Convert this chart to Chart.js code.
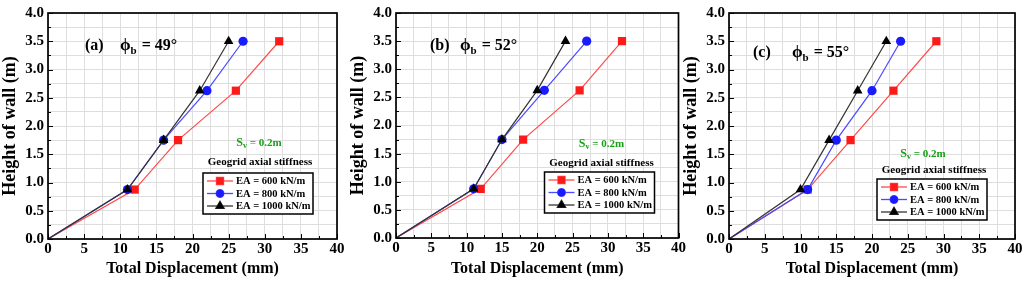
<!DOCTYPE html>
<html>
<head>
<meta charset="utf-8">
<script src="https://cdn.jsdelivr.net/npm/chart.js@4/dist/chart.umd.min.js"></script>
<style>
    body { margin: 0; background: #fff; width: 1024px; height: 284px; overflow: hidden; }
    canvas { position: absolute; top: 0; }
</style>
</head>
<body>
<canvas id="chart-a" width="346" height="284" style="left:0px"></canvas>
<canvas id="chart-b" width="339" height="284" style="left:348px"></canvas>
<canvas id="chart-c" width="343" height="284" style="left:681px"></canvas>
<script>
// 墙高 (m)
const heights = [0, 0.875, 1.75, 2.625, 3.5];

// 各面板位移 (mm)
const dispA600 = [0, 12, 18, 26, 32];
const dispA800 = [0, 11, 16, 22, 27];
const dispA1000 = [0, 11, 16, 21, 25];

const dispB600 = [0, 12, 18, 26, 32];
const dispB800 = [0, 11, 15, 21, 27];
const dispB1000 = [0, 11, 15, 20, 24];

const dispC600 = [0, 11, 17, 23, 29];
const dispC800 = [0, 11, 15, 20, 24];
const dispC1000 = [0, 10, 14, 18, 22];

const seriesLabels = ['EA = 600 kN/m', 'EA = 800 kN/m', 'EA = 1000 kN/m'];
const panelTags = ['(a)', '(b)', '(c)'];
const phiValues = ['49°', '52°', '55°'];
const spacingText = '= 0.2m';
const legendTitle = 'Geogrid axial stiffness';

const seriesColors = ['#ff1a1a', '#1a1aff', '#000000'];
const lineColors = ['#ff4a4a', '#4a4aff', '#333333'];
const pointStyles = ['rect', 'circle', 'triangle'];
const pointSizes = [5.8, 4.6, 5.6];

const serif = "'Liberation Serif', 'DejaVu Serif', serif";

// 面板内文字和图例的位置
const panelLayouts = [
    { id: 'chart-a', data: [dispA600, dispA800, dispA1000], top: 8, xh: 45, yw: 48, right: 9,
      tagDx: 37, tagDy: 33, phiDx: 72, svRight: 78, svBottom: 96, titleBottom: 77,
      boxRight: 24, boxBottom: 25 },
    { id: 'chart-b', data: [dispB600, dispB800, dispB1000], top: 11, xh: 46, yw: 48, right: 8,
      tagDx: 34, tagDy: 33, phiDx: 64, svRight: 77, svBottom: 94, titleBottom: 75,
      boxRight: 24, boxBottom: 25 },
    { id: 'chart-c', data: [dispC600, dispC800, dispC1000], top: 11, xh: 45, yw: 48, right: 9,
      tagDx: 24, tagDy: 40, phiDx: 63, svRight: 92, svBottom: 85, titleBottom: 69,
      boxRight: 28, boxBottom: 19 }
];

function drawMarker(ctx, style, x, y, r, color) {
    Chart.helpers.drawPoint(ctx, { pointStyle: style, radius: r, borderWidth: 1 }, x, y);
    ctx.fillStyle = color;
    ctx.fill();
}

// 边框、刻度、注释、图例
const decorPlugin = {
    id: 'decor',
    afterDatasetsDraw(chart, args, opts) {
        const { ctx, chartArea: a, scales: { x, y } } = chart;
        ctx.save();

        // 内向刻度
        ctx.strokeStyle = '#000';
        ctx.lineWidth = 1;
        ctx.beginPath();
        for (let v = 0; v <= 40; v += 2.5) {
            const px = Math.round(x.getPixelForValue(v)) + 0.5;
            const len = v % 5 === 0 ? 5 : 3;
            ctx.moveTo(px, a.bottom);
            ctx.lineTo(px, a.bottom - len);
        }
        for (let v = 0; v <= 4; v += 0.25) {
            const py = Math.round(y.getPixelForValue(v)) + 0.5;
            const len = Math.abs(v * 2 - Math.round(v * 2)) < 1e-6 ? 5 : 3;
            ctx.moveTo(a.left, py);
            ctx.lineTo(a.left + len, py);
        }
        ctx.stroke();

        // 外框
        ctx.lineWidth = 1.7;
        ctx.strokeRect(a.left, a.top, a.right - a.left, a.bottom - a.top);

        // 面板标签和 φb
        ctx.fillStyle = '#000';
        ctx.textBaseline = 'middle';
        ctx.textAlign = 'left';
        ctx.font = 'bold 16px ' + serif;
        const ty = a.top + opts.tagDy;
        ctx.fillText(opts.tag, a.left + opts.tagDx, ty);
        let px = a.left + opts.phiDx;
        ctx.font = 'bold 17px ' + serif;
        ctx.fillText('ϕ', px, ty);
        px += ctx.measureText('ϕ').width;
        ctx.font = 'bold 11px ' + serif;
        ctx.fillText('b', px, ty + 5);
        px += ctx.measureText('b').width + 1;
        ctx.font = 'bold 16px ' + serif;
        ctx.fillText(' = ' + opts.phi, px, ty);

        // Sv = 0.2m
        ctx.fillStyle = '#17a017';
        const svMain = 'S';
        const svRest = ' ' + spacingText;
        ctx.font = 'bold 12px ' + serif;
        const w1 = ctx.measureText(svMain).width;
        ctx.font = 'bold 8px ' + serif;
        const w2 = ctx.measureText('v').width;
        ctx.font = 'bold 11px ' + serif;
        const w3 = ctx.measureText(svRest).width;
        const svY = a.bottom - opts.svBottom;
        let sx = a.right - opts.svRight - (w1 + w2 + w3) / 2;
        ctx.font = 'bold 12px ' + serif;
        ctx.fillText(svMain, sx, svY);
        sx += w1;
        ctx.font = 'bold 8px ' + serif;
        ctx.fillText('v', sx, svY + 3);
        sx += w2;
        ctx.font = 'bold 11px ' + serif;
        ctx.fillText(svRest, sx, svY);

        // 图例
        const boxW = 110, boxH = 41;
        const bx = a.right - opts.boxRight - boxW;
        const by = a.bottom - opts.boxBottom - boxH;
        ctx.fillStyle = '#000';
        ctx.textAlign = 'center';
        ctx.font = 'bold 11px ' + serif;
        ctx.fillText(legendTitle, bx + boxW / 2 + 2, a.bottom - opts.titleBottom);

        ctx.fillStyle = '#fff';
        ctx.fillRect(bx, by, boxW, boxH);
        ctx.strokeStyle = '#000';
        ctx.lineWidth = 1.5;
        ctx.strokeRect(bx, by, boxW, boxH);

        ctx.textAlign = 'left';
        chart.data.datasets.forEach((ds, i) => {
            const ry = by + 8 + i * 12.5;
            ctx.strokeStyle = lineColors[i];
            ctx.lineWidth = 1.3;
            ctx.beginPath();
            ctx.moveTo(bx + 4, ry);
            ctx.lineTo(bx + 30, ry);
            ctx.stroke();
            drawMarker(ctx, pointStyles[i], bx + 17, ry, pointSizes[i] - 0.8, seriesColors[i]);
            ctx.fillStyle = '#000';
            ctx.font = 'bold 10.5px ' + serif;
            ctx.fillText(ds.label, bx + 33, ry + 0.5);
        });

        ctx.restore();
    }
};

function buildChart(layout, index) {
    const ctx = document.getElementById(layout.id).getContext('2d');
    const datasets = layout.data.map((disp, i) => ({
        label: seriesLabels[i],
        data: disp.map((d, k) => ({ x: d, y: heights[k] })),
        showLine: true,
        borderColor: lineColors[i],
        borderWidth: 1.2,
        backgroundColor: seriesColors[i],
        pointBorderColor: seriesColors[i],
        pointBorderWidth: 0,
        pointStyle: pointStyles[i],
        pointRadius: c => (c.dataIndex === 0 ? 0 : pointSizes[i]),
        order: 3 - i
    }));

    return new Chart(ctx, {
        type: 'scatter',
        data: { datasets: datasets },
        options: {
            responsive: false,
            animation: false,
            events: [],
            layout: { padding: { top: layout.top, right: layout.right, left: 0, bottom: 0 } },
            scales: {
                x: {
                    type: 'linear',
                    min: 0,
                    max: 40,
                    afterFit: s => { s.height = layout.xh; },
                    ticks: {
                        stepSize: 2.5,
                        autoSkip: false,
                        maxRotation: 0,
                        padding: 1,
                        color: '#000',
                        font: { family: serif, size: 15, weight: 'bold' },
                        callback: v => (v % 5 === 0 ? String(v) : '')
                    },
                    grid: { color: '#dedede', lineWidth: 1, drawTicks: false },
                    border: { display: false },
                    title: {
                        display: true,
                        text: 'Total Displacement (mm)',
                        color: '#000',
                        font: { family: serif, size: 16, weight: 'bold' },
                        padding: { top: 0, bottom: 6 }
                    }
                },
                y: {
                    type: 'linear',
                    min: 0,
                    max: 4,
                    afterFit: s => { s.width = layout.yw; },
                    ticks: {
                        stepSize: 0.25,
                        autoSkip: false,
                        padding: 4,
                        color: '#000',
                        font: { family: serif, size: 15, weight: 'bold' },
                        callback: v => (Math.abs(v * 2 - Math.round(v * 2)) < 1e-6 ? v.toFixed(1) : '')
                    },
                    grid: { color: '#dedede', lineWidth: 1, drawTicks: false },
                    border: { display: false },
                    title: {
                        display: true,
                        text: 'Height of wall (m)',
                        color: '#000',
                        font: { family: serif, size: 18, weight: 'bold' },
                        padding: { top: 0, bottom: 0 }
                    }
                }
            },
            plugins: {
                legend: { display: false },
                tooltip: { enabled: false },
                decor: Object.assign({ tag: panelTags[index], phi: phiValues[index] }, layout)
            }
        },
        plugins: [decorPlugin]
    });
}

panelLayouts.forEach((layout, i) => buildChart(layout, i));
</script>
</body>
</html>
